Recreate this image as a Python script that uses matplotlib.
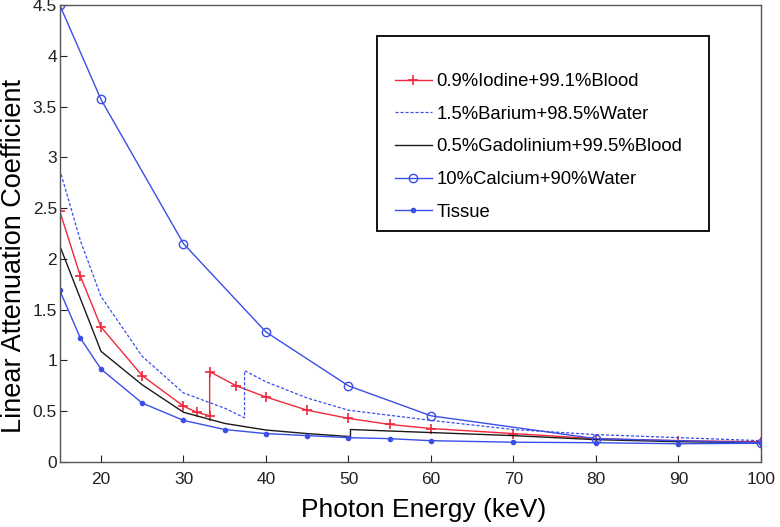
import numpy as np
import matplotlib.pyplot as plt
from matplotlib.patches import Rectangle

plt.rcParams["font.family"] = ["Liberation Sans", "DejaVu Sans"]

# 数据
e_iodine = [15, 17.5, 20, 25, 30, 31.6, 33.17, 33.17, 36.4, 40, 45, 50, 55, 60, 70, 80, 90, 100]
mu_iodine = [2.47, 1.83, 1.33, 0.85, 0.55, 0.49, 0.455, 0.89, 0.75, 0.64, 0.51, 0.43, 0.37, 0.33, 0.28, 0.23, 0.21, 0.20]

e_barium = [15, 17.5, 20, 25, 30, 35, 37.4, 37.4, 40, 45, 50, 60, 70, 80, 90, 100]
mu_barium = [2.88, 2.18, 1.63, 1.04, 0.68, 0.53, 0.435, 0.90, 0.79, 0.63, 0.51, 0.41, 0.32, 0.27, 0.24, 0.21]

e_gado = [15, 20, 25, 30, 35, 40, 45, 50.24, 50.24, 60, 70, 80, 90, 100]
mu_gado = [2.13, 1.09, 0.76, 0.49, 0.38, 0.315, 0.28, 0.25, 0.32, 0.29, 0.26, 0.22, 0.20, 0.19]

e_calcium = [15, 20, 30, 40, 50, 60, 80, 100]
mu_calcium = [4.50, 3.57, 2.15, 1.28, 0.75, 0.455, 0.23, 0.19]

e_tissue = [15, 17.5, 20, 25, 30, 35, 40, 45, 50, 55, 60, 70, 80, 90, 100]
mu_tissue = [1.69, 1.22, 0.915, 0.58, 0.41, 0.32, 0.28, 0.26, 0.24, 0.23, 0.21, 0.195, 0.19, 0.18, 0.185]

x_ticks = [20, 30, 40, 50, 60, 70, 80, 90, 100]
y_ticks = [0, 0.5, 1, 1.5, 2, 2.5, 3, 3.5, 4, 4.5]
y_tick_labels = ["0", "0.5", "1", "1.5", "2", "2.5", "3", "3.5", "4", "4.5"]

red = "#f0283c"
blue = "#3a4ee8"

fig = plt.figure(figsize=(7.8, 5.27), dpi=100)
ax = fig.add_axes([0.0766, 0.1233, 0.8990, 0.8672])

ax.plot(e_iodine, mu_iodine, color=red, lw=1.0, marker="+", ms=7, mew=1.2,
        label="0.9%Iodine+99.1%Blood")
ax.plot(e_barium, mu_barium, color=blue, lw=0.9, ls=(0, (2.5, 1.5)),
        label="1.5%Barium+98.5%Water")
ax.plot(e_gado, mu_gado, color="#1a1a1a", lw=1.0,
        label="0.5%Gadolinium+99.5%Blood")
ax.plot(e_calcium, mu_calcium, color=blue, lw=1.0, marker="o", ms=6,
        mfc="none", mew=1.0, label="10%Calcium+90%Water")
ax.plot(e_tissue, mu_tissue, color=blue, lw=1.0, marker=".", ms=6,
        label="Tissue")

ax.set_xlim(15, 100)
ax.set_ylim(0, 4.5)
ax.set_xticks(x_ticks)
ax.set_yticks(y_ticks)
ax.set_yticklabels(y_tick_labels)
ax.tick_params(direction="in", length=5, labelsize=12.5, colors="#222222")
ax.tick_params(axis="x", pad=7)
ax.tick_params(axis="y", pad=2)
for s in ax.spines.values():
    s.set_color("#555555")
    s.set_linewidth(1.0)

ax.set_xlabel("Photon Energy (keV)", fontsize=19)
ax.xaxis.set_label_coords(0.519, -0.079)
ax.set_ylabel("Linear Attenuation Coefficient", fontsize=19.5)
ax.yaxis.set_label_coords(-0.047, 0.45)

# 图例边框（手动画，留出上方空白）
box = Rectangle((377 / 780, 1 - 231 / 527), (709 - 377) / 780, (231 - 36) / 527,
                transform=fig.transFigure, facecolor="white", edgecolor="black",
                lw=1.3, clip_on=False, zorder=4)
ax.add_patch(box)

leg = ax.legend(loc="upper left", bbox_to_anchor=(395 / 780, 1 - 73 / 527),
                bbox_transform=fig.transFigure, fontsize=13.3, frameon=False,
                handlelength=2.0, handletextpad=0.25, labelspacing=0.85,
                borderpad=0, borderaxespad=0)
leg.set_zorder(5)

fig.savefig("out.png", dpi=100)
